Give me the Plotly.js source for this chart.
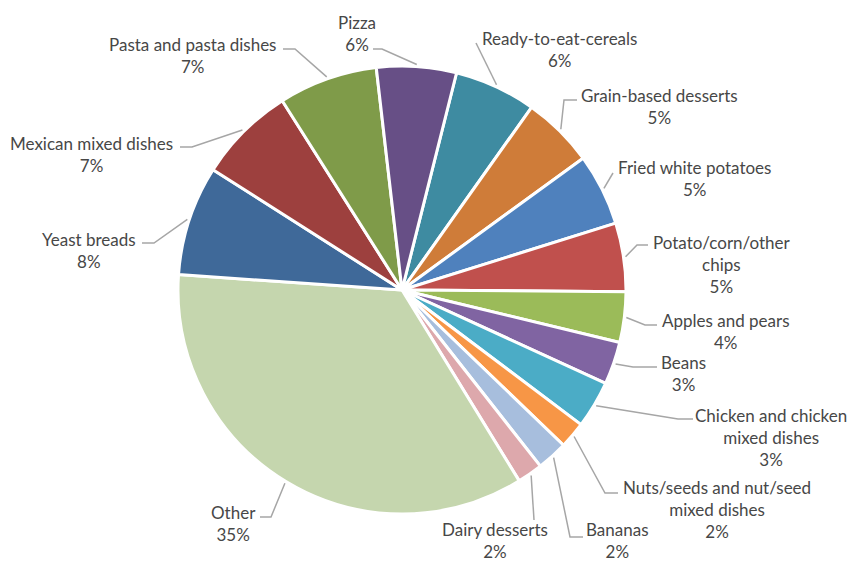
<!DOCTYPE html>
<html>
<head>
<meta charset="utf-8">
<script src="https://cdn.plot.ly/plotly-3.0.1.min.js"></script>
<style>html,body{margin:0;padding:0;background:#fff;}#chart{width:851px;height:565px;}</style>
</head>
<body>
<div id="chart"></div>
<script>
// ---- data (clockwise from the first slice) ----
const categories = [
  "Ready-to-eat-cereals", "Grain-based desserts", "Fried white potatoes",
  "Potato/corn/other chips", "Apples and pears", "Beans",
  "Chicken and chicken mixed dishes", "Nuts/seeds and nut/seed mixed dishes",
  "Bananas", "Dairy desserts", "Other", "Yeast breads",
  "Mexican mixed dishes", "Pasta and pasta dishes", "Pizza"
];
const shares = [5.9, 5.17, 5.19, 4.94, 3.64, 3.08, 3.42, 1.92, 2.22, 1.83, 34.86, 7.92, 7.0, 7.14, 5.75];
const sliceColors = [
  "#3E8BA1", "#CF7C39", "#4F81BD", "#C0504D", "#9BBB59", "#8064A2",
  "#4BACC6", "#F79646", "#A7BEDD", "#DDA8AC", "#C5D6AE", "#3F6999",
  "#9D403E", "#7F9B49", "#674F86"
];
// label text as wrapped in the chart
const labelLines = [
  "Ready-to-eat-cereals", "Grain-based desserts", "Fried white potatoes",
  "Potato/corn/other<br>chips", "Apples and pears", "Beans",
  "Chicken and chicken<br>mixed dishes", "Nuts/seeds and nut/seed<br>mixed dishes",
  "Bananas", "Dairy desserts", "Other", "Yeast breads",
  "Mexican mixed dishes", "Pasta and pasta dishes", "Pizza"
];

// ---- layout geometry (pixels) ----
const W = 851, H = 565;
const M = {l: 178, r: 225, t: 66, b: 51};
const PW = W - M.l - M.r, PH = H - M.t - M.b;
const CX = M.l + PW / 2, CY = M.t + PH / 2, R = Math.min(PW, PH) / 2;
const ROT = 14.1;
// label centre positions and leader-line start/elbow points (pixels)
const labelPos = [
  [559, 50], [659, 107], [694, 178], [722, 264], [726, 331], [683, 373],
  [771, 437], [717, 509], [617, 540], [495, 540], [233, 523], [89, 250],
  [91, 154], [192, 55], [357, 33]
];
const leaderStart = [
  [476, 43], [577, 100], [613, 173], [648, 245], [657, 325], [657, 367],
  [693, 419], [618, 493], [583, 537], [534, 520], [260, 517], [142, 243],
  [180, 147], [283, 49], [373, 49]
];
const leaderElbow = [
  [476, 43], [564, 100], [613, 173], [637, 245], [645, 325], [633, 367],
  [678, 419], [605, 493], [570, 537], [534, 520], [271, 517], [154, 243],
  [192, 147], [295, 49], [382, 49]
];

const px2x = p => (p - M.l) / PW;
const py2y = p => (H - M.b - p) / PH;

const total = shares.reduce((a, b) => a + b, 0);
const annotations = [];
const shapes = [];
let acc = 0;
shares.forEach((v, i) => {
  const mid = (ROT + (acc + v / 2) / total * 360) * Math.PI / 180;
  acc += v;
  const ex = CX + (R + 2) * Math.sin(mid);
  const ey = CY - (R + 2) * Math.cos(mid);
  const [sx, sy] = leaderStart[i];
  const [bx, by] = leaderElbow[i];
  shapes.push({
    type: "path", xref: "paper", yref: "paper",
    path: `M ${px2x(sx)} ${py2y(sy)} L ${px2x(bx)} ${py2y(by)} L ${px2x(ex)} ${py2y(ey)}`,
    line: {color: "#A6A6A6", width: 1.5}
  });
  annotations.push({
    xref: "paper", yref: "paper",
    x: px2x(labelPos[i][0]), y: py2y(labelPos[i][1]),
    xanchor: "center", yanchor: "middle", align: "center",
    showarrow: false, borderpad: 0,
    text: labelLines[i] + "<br>" + Math.round(v / total * 100) + "%",
    font: {family: "Lato, 'Open Sans', sans-serif", size: 17, color: "#474747"}
  });
});

const trace = {
  type: "pie",
  labels: categories,
  values: shares,
  sort: false,
  direction: "clockwise",
  rotation: ROT,
  marker: {colors: sliceColors, line: {color: "#FFFFFF", width: 3}},
  textinfo: "none",
  hoverinfo: "label+percent",
  showlegend: false,
  domain: {x: [0, 1], y: [0, 1]}
};

const layout = {
  width: W, height: H,
  margin: M,
  paper_bgcolor: "#FFFFFF",
  plot_bgcolor: "#FFFFFF",
  showlegend: false,
  annotations: annotations,
  shapes: shapes
};

Plotly.newPlot("chart", [trace], layout, {displayModeBar: false, staticPlot: true});
</script>
</body>
</html>
